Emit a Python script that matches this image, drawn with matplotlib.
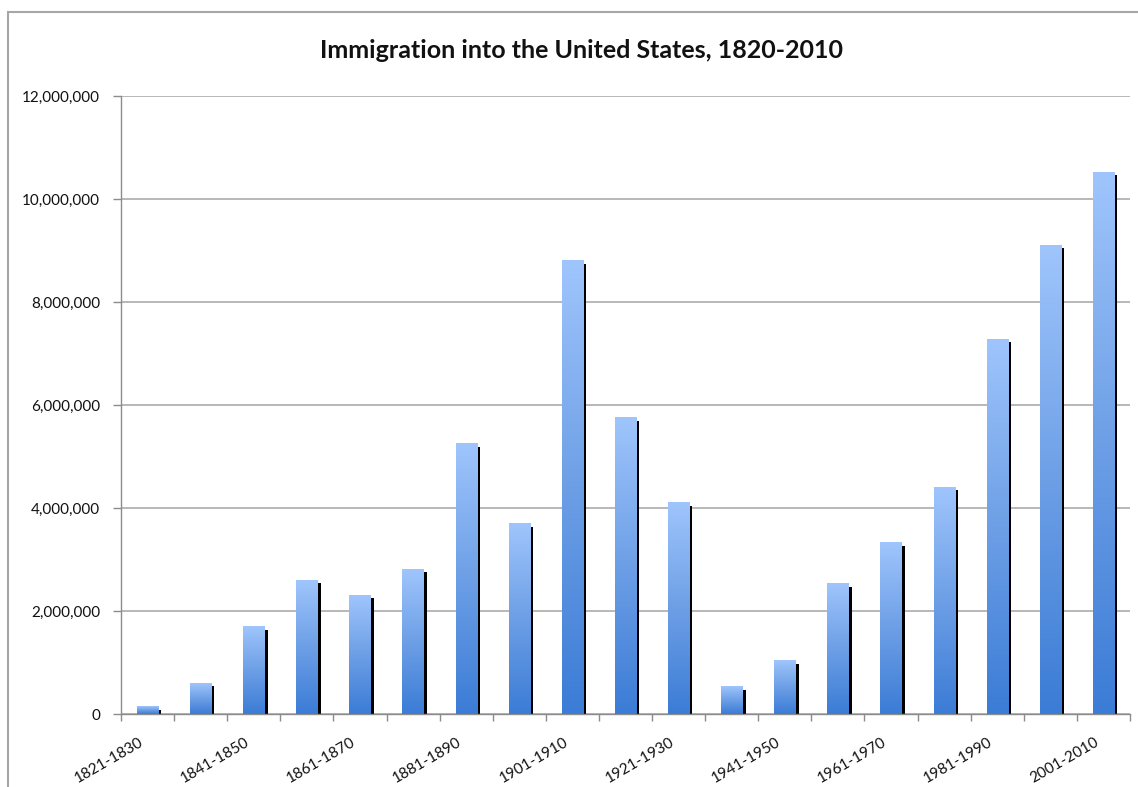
import numpy as np
import matplotlib
matplotlib.use('Agg')
import matplotlib.pyplot as plt
from matplotlib.colors import LinearSegmentedColormap
from matplotlib.patches import Rectangle
from matplotlib.ticker import FuncFormatter
from matplotlib.transforms import ScaledTranslation

# immigration per decade
decades = ['1821-1830', '1831-1840', '1841-1850', '1851-1860', '1861-1870',
           '1871-1880', '1881-1890', '1891-1900', '1901-1910', '1911-1920',
           '1921-1930', '1931-1940', '1941-1950', '1951-1960', '1961-1970',
           '1971-1980', '1981-1990', '1991-2000', '2001-2010']
immigrants = [143000, 599000, 1700000, 2600000, 2310000,
              2810000, 5250000, 3700000, 8800000, 5750000,
              4100000, 530000, 1040000, 2530000, 3330000,
              4400000, 7280000, 9100000, 10520000]
y_ticks = [0, 2000000, 4000000, 6000000, 8000000, 10000000, 12000000]

plt.rcParams['font.family'] = ['Lato', 'DejaVu Sans']

W, H = 1138, 787
fig = plt.figure(figsize=(W / 100, H / 100), dpi=100)
ax = fig.add_axes([121 / W, 73 / H, (1130 - 121) / W, (714 - 96) / H])

# outer chart frame (runs off the right and bottom edge)
fig.patches.append(Rectangle((8 / W, -0.1), 1.2, (H - 12) / H + 0.1,
                             transform=fig.transFigure, fill=False,
                             edgecolor='#a6a6a6', lw=1.5))

cmap = LinearSegmentedColormap.from_list('bar', ['#3b7cd6', '#6d9fe6', '#9fc5fc'])
grad = np.linspace(0, 1, 256).reshape(-1, 1)

bw = 0.40
dx = 0.06    # shadow offset, in category units
dy = 60000   # shadow drop at the top
for i, v in enumerate(immigrants):
    x0 = i - bw / 2
    ax.add_patch(Rectangle((x0 + dx, 0), bw, v - dy, facecolor='black',
                           edgecolor='none', zorder=2))
    ax.imshow(grad, extent=[x0, x0 + bw, 0, v], origin='lower', aspect='auto',
              cmap=cmap, zorder=3, interpolation='bicubic')

ax.set_xlim(-0.5, len(decades) - 0.5)
ax.set_ylim(0, 12000000)

ax.set_yticks(y_ticks)
ax.yaxis.set_major_formatter(FuncFormatter(lambda v, p: '{:,.0f}'.format(v)))
ax.grid(axis='y', color='#b8b8b8', lw=1.4, zorder=0)
ax.set_axisbelow(True)

# ticks on the category boundaries, labels on every other category
ax.set_xticks(np.arange(-0.5, len(decades)))
ax.set_xticklabels([])
ax.set_xticks(range(0, len(decades), 2), minor=True)
ax.set_xticklabels(decades[::2], minor=True, rotation=30, ha='right',
                   va='top', rotation_mode='anchor')
ax.tick_params(axis='x', which='minor', length=0, pad=15)
ax.tick_params(axis='x', which='major', length=5, color='#8c8c8c', width=1)
ax.tick_params(axis='y', length=6, color='#8c8c8c', width=1, pad=9)
ax.tick_params(which='both', labelsize=11, labelcolor='#111111')
offset = ScaledTranslation(-9 / 100, 0, fig.dpi_scale_trans)
for lab in ax.get_xticklabels(minor=True):
    lab.set_transform(lab.get_transform() + offset)

for s in ['top', 'right']:
    ax.spines[s].set_visible(False)
for s in ['left', 'bottom']:
    ax.spines[s].set_color('#8c8c8c')
    ax.spines[s].set_linewidth(1)

fig.text(582 / W, 1 - 50 / H, 'Immigration into the United States, 1820-2010',
         ha='center', va='center', fontsize=18, fontweight='bold', color='#111111')

fig.savefig('out.png', dpi=100)
